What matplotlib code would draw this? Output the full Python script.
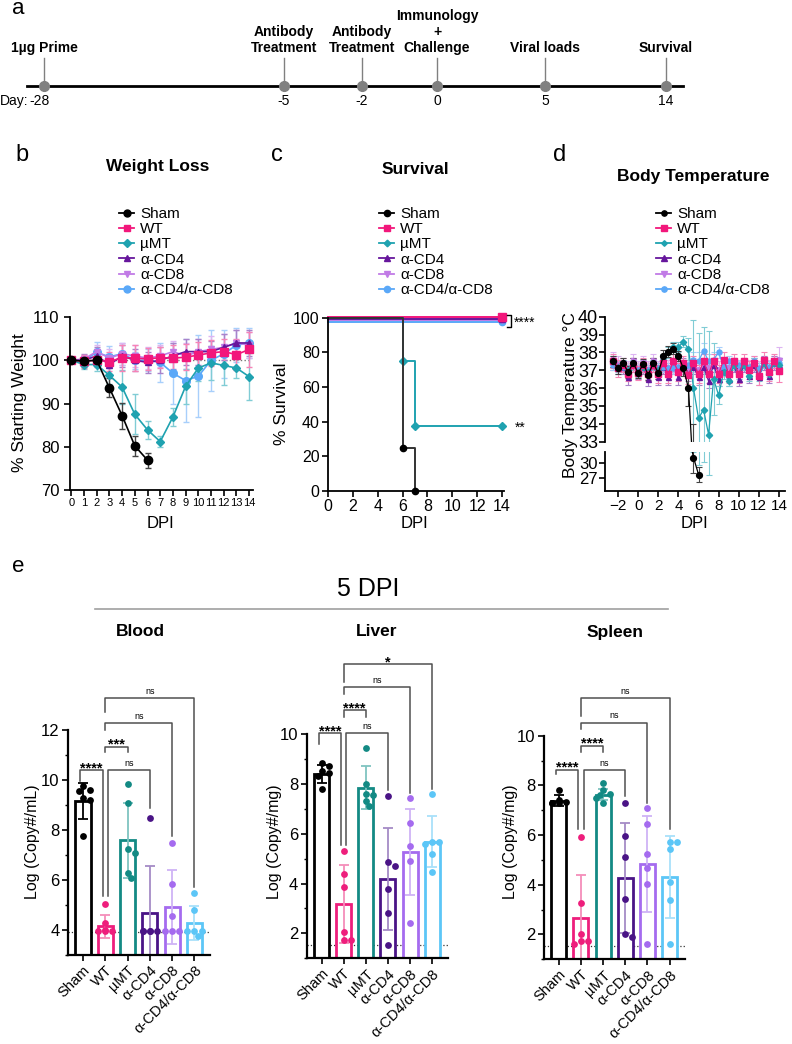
import matplotlib.pyplot as plt
from matplotlib.lines import Line2D
from matplotlib.ticker import MultipleLocator

plt.rcParams['font.family'] = ['Liberation Sans', 'DejaVu Sans']
plt.rcParams['axes.linewidth'] = 1.3
plt.rcParams['xtick.major.width'] = 1.2
plt.rcParams['ytick.major.width'] = 1.2
plt.rcParams['xtick.major.size'] = 4
plt.rcParams['ytick.major.size'] = 4
plt.rcParams['ytick.minor.size'] = 2.5
plt.rcParams['ytick.minor.width'] = 1.0

W, H = 792, 1044

# ---------------- data ----------------
groups = ['Sham', 'WT', 'µMT', 'α-CD4', 'α-CD8', 'α-CD4/α-CD8']

timeline_days = [-28, -5, -2, 0, 5, 14]
timeline_events = ['1µg Prime', 'Antibody\nTreatment', 'Antibody\nTreatment',
                   'Immunology\n+\nChallenge', 'Viral loads', 'Survival']

# (b) weight loss, % starting weight
weight_days = [0, 1, 2, 3, 4, 5, 6, 7, 8, 9, 10, 11, 12, 13, 14]
weight_sham = [100, 99.8, 100, 93.6, 87.2, 80.2, 76.9]
weight_sham_sd = [0.3, 1.0, 1.0, 2.2, 3.0, 2.3, 1.7]
weight_wt = [100, 99.8, 100, 99.7, 100.6, 100.5, 100.3, 100.6, 100.5, 100.7, 101.2, 101.7, 102, 101.3, 102.5]
weight_wt_sd = [0.5, 1.5, 1.5, 2.3, 3.0, 3.0, 2.5, 2.5, 3.0, 3.0, 3.0, 3.0, 3.0, 3.5, 4.0]
weight_mumt = [100, 99, 99, 96.5, 93.8, 87.5, 83.9, 81.2, 86.9, 94.0, 98.2, 99.4, 98.8, 98.2, 96.2]
weight_mumt_sd = [0.3, 1.0, 1.5, 2.0, 4.0, 4.6, 2.0, 1.2, 2.0, 4.0, 3.0, 4.0, 4.5, 2.2, 5.5]
weight_cd4 = [100, 100, 101, 99, 101, 100, 99.5, 100, 101, 102, 102, 102, 103, 104, 104]
weight_cd4_sd = [0.5, 1.5, 2.0, 2.5, 2.5, 2.5, 2.5, 3.0, 3.0, 3.0, 3.0, 2.5, 3.0, 3.0, 3.0]
weight_cd8 = [100, 100.3, 102, 100.5, 101.5, 101, 100.5, 101, 102, 101, 102, 102.5, 103, 104, 103.5]
weight_cd8_sd = [0.5, 1.0, 1.5, 2.0, 2.5, 2.5, 2.5, 2.5, 2.5, 3.0, 3.0, 3.0, 3.0, 3.0, 3.0]
weight_dko = [100, 100, 101.8, 100.8, 101.5, 100, 100, 99.5, 97.0, 95.3, 96.3, 100, 101.5, 103.5, 104]
weight_dko_sd = [0.5, 1.0, 2.5, 2.5, 2.5, 2.0, 2.5, 4.5, 7.0, 9.5, 9.5, 7.0, 5.5, 4.0, 3.5]

# (c) survival, % (step points)
surv_days_sham = [0, 6, 7]
surv_sham = [100, 25, 0]
surv_days_mumt = [0, 6, 7, 14]
surv_mumt = [100, 75, 37.5, 37.5]
surv_days_full = [0, 14]
surv_full = [100, 100]

# (d) body temperature, °C, twice daily
temp_days = [-2.5, -2, -1.5, -1, -0.5, 0, 0.5, 1, 1.5, 2, 2.5, 3, 3.5, 4, 4.5, 5, 5.5,
             6, 6.5, 7, 7.5, 8, 8.5, 9, 9.5, 10, 10.5, 11, 11.5, 12, 12.5, 13, 13.5, 14]
temp_sham = [37.5, 37.1, 37.4, 36.9, 37.4, 36.85, 37.35, 36.75, 37.4, 36.85,
             37.8, 38.05, 38.2, 37.8, 37.1, 36.0, 31.0, 27.6]
temp_sham_sd = [0.3, 0.3, 0.3, 0.35, 0.3, 0.3, 0.3, 0.3, 0.3, 0.35,
                0.35, 0.3, 0.3, 0.3, 0.4, 1.0, 3.0, 1.5]
temp_wt = [37.5, 37.1, 37.3, 36.8, 37.3, 36.85, 37.3, 36.8, 37.3, 36.8,
           37.4, 36.8, 37.5, 36.9, 37.4, 36.75, 37.4, 36.8, 37.5, 36.8,
           37.5, 36.8, 37.6, 36.8, 37.5, 36.8, 37.5, 37.0, 37.4, 36.7,
           37.6, 36.9, 37.5, 36.95]
temp_wt_sd = [0.4, 0.5, 0.4, 0.4, 0.4, 0.4, 0.4, 0.4, 0.4, 0.5,
              0.4, 0.5, 0.4, 0.5, 0.4, 0.5, 0.4, 0.5, 0.4, 0.5,
              0.4, 0.5, 0.4, 0.5, 0.4, 0.5, 0.4, 0.5, 0.4, 0.5,
              0.4, 0.5, 0.4, 0.6]
temp_mumt = [37.5, 37.2, 37.3, 37.0, 37.3, 36.9, 37.2, 36.9, 37.3, 37.0,
             37.6, 38.0, 38.3, 38.3, 38.6, 38.2, 36.0, 34.3, 34.8, 33.4,
             36.5, 35.6, 36.9, 36.4, 37.3, 36.8, 37.3, 36.7, 37.4, 36.7,
             37.4, 36.8, 37.4, 37.3]
temp_mumt_sd = [0.3, 0.3, 0.3, 0.3, 0.3, 0.3, 0.3, 0.3, 0.3, 0.3,
                0.3, 0.3, 0.3, 0.3, 0.3, 0.6, 3.8, 4.8, 4.6, 5.8,
                2.0, 0.5, 0.4, 0.3, 0.3, 0.3, 0.3, 0.3, 0.3, 0.3,
                0.3, 0.3, 0.3, 0.3]
temp_cd4 = [37.4, 37.2, 37.2, 36.6, 37.3, 36.9, 37.2, 36.5, 37.3, 36.6,
            37.2, 36.6, 37.2, 36.6, 37.3, 36.8, 37.2, 36.6, 37.2, 36.4,
            37.3, 36.5, 37.2, 36.5, 37.3, 36.5, 37.3, 36.7, 37.3, 36.6,
            37.4, 36.7, 37.4, 37.3]
temp_cd4_sd = [0.4, 0.4, 0.4, 0.4, 0.4, 0.4, 0.4, 0.4, 0.4, 0.4,
               0.4, 0.4, 0.4, 0.4, 0.4, 0.4, 0.4, 0.4, 0.4, 0.4,
               0.4, 0.4, 0.4, 0.4, 0.4, 0.4, 0.4, 0.4, 0.4, 0.4,
               0.4, 0.4, 0.4, 0.4]
temp_cd8 = [37.6, 37.3, 37.3, 37.0, 37.5, 37.0, 37.4, 37.0, 37.5, 37.0,
            37.3, 37.1, 37.3, 37.0, 37.2, 37.1, 37.3, 37.0, 37.3, 37.1,
            37.3, 37.0, 37.2, 37.1, 37.3, 37.0, 37.3, 37.1, 37.3, 37.0,
            37.4, 37.1, 37.4, 37.6]
temp_cd8_sd = [0.4, 0.5, 0.4, 0.5, 0.4, 0.5, 0.4, 0.5, 0.4, 0.5,
               0.4, 0.5, 0.4, 0.5, 0.4, 0.5, 0.4, 0.5, 0.4, 0.5,
               0.4, 0.5, 0.4, 0.5, 0.4, 0.5, 0.4, 0.5, 0.4, 0.5,
               0.4, 0.5, 0.4, 0.7]
temp_dko = [37.3, 37.1, 37.2, 37.0, 37.3, 37.0, 37.2, 37.0, 37.3, 37.1,
            37.2, 37.1, 37.1, 37.2, 37.3, 37.3, 37.6, 37.5, 38.1, 37.5,
            37.6, 38.0, 37.2, 37.5, 37.3, 37.3, 37.3, 37.2, 37.5, 37.1,
            37.4, 37.2, 37.4, 37.4]
temp_dko_sd = [0.3, 0.3, 0.3, 0.3, 0.3, 0.3, 0.3, 0.3, 0.3, 0.3,
               0.3, 0.3, 0.3, 0.3, 0.3, 0.3, 0.4, 0.5, 0.4, 0.4,
               0.4, 0.3, 0.4, 0.3, 0.3, 0.3, 0.3, 0.3, 0.3, 0.3,
               0.3, 0.3, 0.3, 0.3]

# (e) viral loads at 5 DPI
blood_mean = [9.15, 4.15, 7.6, 4.68, 4.93, 4.3]
blood_sd = [0.72, 0.47, 1.5, 1.9, 1.47, 0.68]
blood_points = [[9.77, 9.6, 9.55, 9.3, 9.2, 7.75],
                [5.03, 4.28, 4.0, 3.95, 3.95, 3.95],
                [9.83, 9.1, 7.25, 7.1, 6.3, 6.1],
                [8.5, 3.95, 3.95, 3.95, 3.95, 3.95],
                [7.5, 5.85, 4.58, 3.95, 3.95, 3.95],
                [5.5, 4.82, 3.95, 3.95, 3.95, 3.75]]
blood_lod = 3.93

liver_mean = [8.4, 3.18, 7.85, 4.18, 5.25, 5.68]
liver_sd = [0.35, 1.55, 0.85, 2.05, 1.73, 1.02]
liver_points = [[8.82, 8.7, 8.5, 8.45, 8.3, 7.78],
                [5.3, 4.38, 3.88, 2.05, 1.72, 1.72],
                [9.43, 8.0, 7.58, 7.55, 7.3, 7.1],
                [7.5, 4.85, 4.72, 3.78, 2.8, 1.55],
                [7.45, 6.42, 5.52, 4.9, 2.42],
                [7.6, 5.68, 5.65, 5.6, 5.2, 4.48]]
liver_lod = 1.55

spleen_mean = [7.38, 2.68, 7.62, 4.27, 4.85, 4.33]
spleen_sd = [0.22, 1.73, 0.22, 2.2, 1.93, 1.65]
spleen_points = [[7.82, 7.4, 7.35, 7.3, 7.3, 7.28],
                 [5.92, 3.25, 2.0, 1.75, 1.75, 1.6],
                 [8.08, 7.8, 7.65, 7.6, 7.5, 7.3],
                 [7.28, 5.98, 5.1, 3.42, 2.0, 1.88],
                 [7.08, 6.45, 5.25, 4.68, 4.05, 1.62],
                 [5.72, 5.72, 5.45, 4.1, 3.4, 1.6]]
spleen_lod = 1.55

# significance: (group i, group j, label)
blood_sig = [(0, 1, '****'), (1, 2, '***'), (1, 3, 'ns'), (1, 4, 'ns'), (1, 5, 'ns')]
liver_sig = [(0, 1, '****'), (1, 2, '****'), (1, 3, 'ns'), (1, 4, 'ns'), (1, 5, '*')]
spleen_sig = [(0, 1, '****'), (1, 2, '****'), (1, 3, 'ns'), (1, 4, 'ns'), (1, 5, 'ns')]

# ---------------- styles / layout ----------------
line_colors = ['#000000', '#F2177B', '#1FA2B0', '#66169C', '#C17BE6', '#5AA8F8']
err_colors = ['#444444', '#F783B6', '#80CCD5', '#A983CA', '#DDB5F2', '#A8CFFB']
markers = ['o', 's', 'D', '^', 'v', 'o']
bar_colors = ['#000000', '#EE1E7C', '#138A84', '#4A1486', '#A56BEF', '#5CC6F7']
bar_err_colors = ['#000000', '#F58DBA', '#7FC4C0', '#A58BC6', '#CFB3F6', '#A9E1FA']
draw_order = [5, 4, 3, 2, 1, 0]
surv_offset = [0, 0.6, 0, -1.0, -1.6, -2.6]
timeline_x = [44, 284, 362, 437, 545, 666]

fig = plt.figure(figsize=(W / 100, H / 100), dpi=100)


def px_axes(left, top, right, bottom):
    return fig.add_axes([left / W, 1 - bottom / H, (right - left) / W, (bottom - top) / H])


def fig_text(x, y, s, **kw):
    kw.setdefault('ha', 'center')
    kw.setdefault('va', 'center')
    fig.text(x / W, 1 - y / H, s, **kw)


def clean(ax):
    ax.spines['top'].set_visible(False)
    ax.spines['right'].set_visible(False)


def legend(x, y, ms):
    handles = [Line2D([], [], color=line_colors[i], marker=markers[i],
                      ms=ms * (0.75 if markers[i] == 'D' else 1), lw=1.3)
               for i in range(6)]
    fig.legend(handles, groups, loc='upper left', bbox_to_anchor=(x / W, 1 - y / H),
               frameon=False, fontsize=11, handlelength=1.0, handletextpad=0.4,
               labelspacing=0.08, borderpad=0, borderaxespad=0)


# ---- a: timeline ----
ax_t = px_axes(0, 0, W, 125)
ax_t.set_xlim(0, W)
ax_t.set_ylim(125, 0)
ax_t.axis('off')
tl_font = ['Liberation Sans Narrow', 'Liberation Sans']
ax_t.plot([27, 683], [86, 86], color='black', lw=2, zorder=2)
for x, day, ev in zip(timeline_x, timeline_days, timeline_events):
    ax_t.plot([x, x], [58, 86], color='#808080', lw=1, zorder=1)
    ax_t.plot(x, 86, 'o', color='#808080', ms=7, zorder=3)
    ax_t.text(x, 55, ev, ha='center', va='bottom', fontsize=10, fontweight='bold',
              family=tl_font, linespacing=1.2)
    ax_t.text(x - (4 if day == -28 else 0), 101, str(day), ha='center', va='center',
              fontsize=10, family=tl_font)
ax_t.text(0, 101, 'Day:', ha='left', va='center', fontsize=10, family=tl_font)
fig_text(18, 9, 'a', fontsize=16)

# ---- b: weight loss ----
fig_text(22, 155, 'b', fontsize=17)
fig_text(158, 167, 'Weight Loss', fontsize=12.5, fontweight='bold')
ax_b = px_axes(70, 317, 253, 490)
weights = [weight_sham, weight_wt, weight_mumt, weight_cd4, weight_cd8, weight_dko]
weights_sd = [weight_sham_sd, weight_wt_sd, weight_mumt_sd, weight_cd4_sd, weight_cd8_sd, weight_dko_sd]
b_ms = [6, 6, 4, 5, 5, 5.5]
ax_b.plot([0, 14], [100, 100], ':', color='#777777', lw=1, zorder=0)
for i in draw_order:
    n = len(weights[i])
    ax_b.errorbar(weight_days[:n], weights[i], yerr=weights_sd[i], color=line_colors[i],
                  ecolor=err_colors[i], marker=markers[i], ms=b_ms[i], lw=1.2,
                  elinewidth=1, capsize=2.5, capthick=1, clip_on=False)
ax_b.set_xlim(-0.1, 14.3)
ax_b.set_ylim(70, 110)
ax_b.set_xticks(range(0, 15))
ax_b.set_yticks([70, 80, 90, 100, 110])
ax_b.tick_params(axis='x', labelsize=8, pad=2)
ax_b.tick_params(axis='y', labelsize=12)
clean(ax_b)
fig_text(20, 403, '% Starting Weight', fontsize=12.5, rotation=90)
fig_text(160, 523, 'DPI', fontsize=12)
legend(119, 207, 5)

# ---- c: survival ----
fig_text(277, 155, 'c', fontsize=17)
fig_text(415, 170, 'Survival', fontsize=12.5, fontweight='bold')
ax_c = px_axes(328, 317.7, 504, 491)
for i in [5, 4, 3, 1, 2, 0]:
    if i == 0:
        d, v = surv_days_sham, surv_sham
    elif i == 2:
        d, v = surv_days_mumt, surv_mumt
    else:
        d, v = surv_days_full, surv_full
    v = [val + surv_offset[i] for val in v]
    ax_c.step(d, v, where='post', color=line_colors[i] if i else '#333333', lw=1.4, clip_on=False)
    ax_c.plot(d[1:], v[1:], linestyle='none', marker=markers[i], color=line_colors[i],
              ms=6 if i == 1 else 4.5, clip_on=False)
ax_c.set_xlim(0, 14.16)
ax_c.set_ylim(0, 100)
ax_c.set_xticks(range(0, 15, 2))
ax_c.set_yticks(range(0, 101, 20))
ax_c.tick_params(labelsize=11.5, pad=2)
clean(ax_c)
ax_c.plot([14.4, 14.75, 14.75, 14.4], [101.5, 101.5, 94.5, 94.5], color='black', lw=1, clip_on=False)
ax_c.text(14.95, 97.2, '****', fontsize=10, ha='left', va='center', clip_on=False)
ax_c.text(15.0, 36.5, '**', fontsize=10, ha='left', va='center', clip_on=False)
fig_text(282, 404, '% Survival', fontsize=12.5, rotation=90)
fig_text(415, 523, 'DPI', fontsize=12)
legend(379, 207, 4.5)

# ---- d: body temperature (broken axis) ----
fig_text(560, 155, 'd', fontsize=17)
fig_text(693, 176, 'Body Temperature', fontsize=12.5, fontweight='bold')
ax_d1 = px_axes(605, 316.7, 785, 441.7)
ax_d2 = px_axes(605, 452, 785, 491)
temps = [temp_sham, temp_wt, temp_mumt, temp_cd4, temp_cd8, temp_dko]
temps_sd = [temp_sham_sd, temp_wt_sd, temp_mumt_sd, temp_cd4_sd, temp_cd8_sd, temp_dko_sd]
d_ms = [4.2, 4.5, 3.2, 3.6, 3.6, 3.6]
for ax in (ax_d1, ax_d2):
    for i in [4, 3, 5, 2, 1, 0]:
        n = len(temps[i])
        ax.errorbar(temp_days[:n], temps[i], yerr=temps_sd[i], color=line_colors[i],
                    ecolor=err_colors[i], marker=markers[i], ms=d_ms[i], lw=0.9,
                    elinewidth=0.8, capsize=2, capthick=0.8)
    ax.set_xlim(-3.3, 14.6)
    ax.spines['top'].set_visible(False)
    ax.spines['right'].set_visible(False)
ax_d1.set_ylim(33, 40)
ax_d1.set_yticks(range(33, 41))
ax_d1.spines['bottom'].set_visible(False)
ax_d1.tick_params(axis='x', bottom=False, labelbottom=False)
ax_d1.tick_params(axis='y', labelsize=13, pad=1)
ax_d2.set_ylim(24.3, 32.1)
ax_d2.set_yticks([27, 30])
ax_d2.set_xticks(range(-2, 15, 2))
ax_d2.tick_params(axis='y', labelsize=12, pad=1)
ax_d2.tick_params(axis='x', labelsize=11, pad=2)
fig_text(570, 395, 'Body Temperature °C', fontsize=12.5, rotation=90)
fig_text(695, 523, 'DPI', fontsize=12)
legend(656, 207, 3.8)

# ---- e: viral loads ----
fig_text(18, 567, 'e', fontsize=16)
fig_text(368, 589, '5 DPI', fontsize=18)
fig.add_artist(Line2D([95 / W, 668 / W], [1 - 609 / H, 1 - 609 / H], color='#a0a0a0', lw=1.2))


def swarm(center, vals, ppx, ppy, dot=6.0, step=0.16):
    placed, xs = [], []
    for v in vals:
        best = 0.0
        for c in [0, 1, -1, 2, -2]:
            off = c * step
            if all(((off - po) * ppx) ** 2 + ((v - pv) * ppy) ** 2 >= dot ** 2 for po, pv in placed):
                best = off
                break
            best = [0, 1, -1, 2, -2][len(placed) % 5] * step
        placed.append((best, v))
        xs.append(center + best)
    return xs


def bracket(ax, x1, x2, top, end1, end2, label):
    ax.plot([x1, x1, x2, x2], [end1, top, top, end2], color='#505050', lw=1.1,
            clip_on=False, zorder=1)
    if label == 'ns':
        ax.annotate(label, ((x1 + x2) / 2, top), xytext=(0, 3), textcoords='offset points',
                    ha='center', va='baseline', fontsize=6.5, annotation_clip=False)
    else:
        ax.annotate(label, ((x1 + x2) / 2, top), xytext=(0, -1.5), textcoords='offset points',
                    ha='center', va='baseline', fontsize=10.5, fontweight='bold',
                    annotation_clip=False)


def bar_panel(box, ylim, mean, sd, pts, lod, sig, tops, ends, title, title_x, ylabel, ylabel_x):
    ax = px_axes(*box)
    x = list(range(6))
    ax.bar(x, mean, width=0.68, facecolor='white', edgecolor=bar_colors, linewidth=2, zorder=1)
    for i in x:
        ax.errorbar(i, mean[i], yerr=sd[i], color=bar_err_colors[i], capsize=3.5,
                    elinewidth=1.3, capthick=1.3, zorder=2)
        xs = swarm(i, pts[i], 22.2, 25)
        ax.scatter(xs, pts[i], s=24, color=bar_colors[i], zorder=3, linewidths=0)
    ax.axhline(lod, ls=':', color='#333333', lw=0.9, zorder=0)
    ax.set_xlim(-0.67, 5.7)
    ax.set_ylim(*ylim)
    ax.yaxis.set_major_locator(MultipleLocator(2))
    ax.yaxis.set_minor_locator(MultipleLocator(1))
    ax.set_xticks(x)
    ax.set_xticklabels(groups, rotation=45, ha='right', rotation_mode='anchor', fontsize=10.5)
    ax.tick_params(axis='y', labelsize=12, pad=2)
    ax.tick_params(axis='x', pad=2)
    ax.spines['left'].set_linewidth(1.6)
    ax.spines['bottom'].set_linewidth(1.6)
    clean(ax)
    for (i, j, lab), top, (e1, e2) in zip(sig, tops, ends):
        xi = i + (-0.12 if (i, j) == (0, 1) else 0) + (0.12 if (i, j) == (1, 3) else 0)
        xj = j - (0.12 if (i, j) == (0, 1) else 0)
        bracket(ax, xi, xj, top, e1, e2, lab)
    fig_text(title_x, 632, title, fontsize=12.5, fontweight='bold')
    fig_text(ylabel_x, 842, ylabel, fontsize=11.5, rotation=90)
    return ax


bar_panel((68, 730, 210, 955), (3, 12), blood_mean, blood_sd, blood_points, blood_lod, blood_sig,
          [10.4, 11.33, 10.4, 12.27, 13.27],
          [(9.95, 5.35), (11.13, 11.13), (5.35, 8.9), (12.0, 7.75), (12.73, 5.73)],
          'Blood', 140, 'Log (Copy#/mL)', 33)
bar_panel((306.7, 734, 447.7, 958.3), (1, 10), liver_mean, liver_sd, liver_points, liver_lod, liver_sig,
          [10.03, 10.96, 10.03, 11.87, 12.8],
          [(9.6, 5.55), (10.7, 10.7), (5.55, 7.76), (11.6, 7.63), (12.1, 7.8)],
          'Liver', 377, 'Log (Copy#/mg)', 274)
bar_panel((544, 735.7, 685, 959.3), (1, 10), spleen_mean, spleen_sd, spleen_points, spleen_lod, spleen_sig,
          [8.63, 9.6, 8.63, 10.53, 11.5],
          [(8.45, 6.23), (9.35, 9.35), (6.23, 7.56), (10.25, 7.3), (10.8, 6.23)],
          'Spleen', 615, 'Log (Copy#/mg)', 511)

fig.savefig('out.png', dpi=100)
